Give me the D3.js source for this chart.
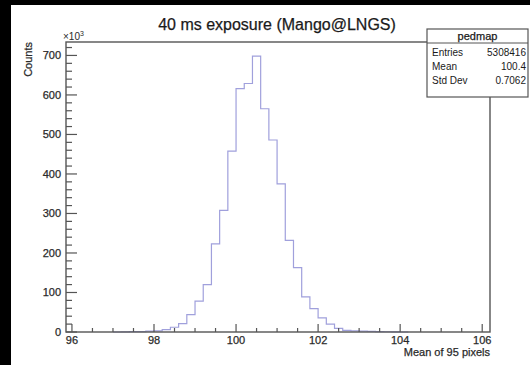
<!DOCTYPE html>
<html>
<head>
<meta charset="utf-8">
<script src="https://cdn.jsdelivr.net/npm/d3@7"></script>
<style>
  html, body { margin: 0; padding: 0; background: #000; }
  svg { display: block; }
  text { font-family: "Liberation Sans", Arial, Helvetica, sans-serif; stroke-width: 0.25px; }
</style>
</head>
<body>
<svg id="chart" width="530" height="365"></svg>
<script>
// ---- data (counts in thousands) ----
const binLow = [97.0, 97.2, 97.4, 97.6, 97.8, 98.0, 98.2, 98.4, 98.6, 98.8,
                99.0, 99.2, 99.4, 99.6, 99.8, 100.0, 100.2, 100.4, 100.6, 100.8,
                101.0, 101.2, 101.4, 101.6, 101.8, 102.0, 102.2, 102.4, 102.6, 102.8,
                103.0, 103.2, 103.4, 103.6, 103.8, 104.0];
const binWidth = 0.2;
const counts = [0, 0.5, 0.8, 1.2, 2, 3, 6, 12, 21, 44,
                78, 120, 223, 308, 458, 616, 629, 698, 565, 486,
                375, 232, 163, 89, 59, 36, 20, 9, 4, 3,
                2, 1.5, 1, 0.6, 0.4, 0];
const xTicks = [96, 98, 100, 102, 104, 106];
const yTicks = [0, 100, 200, 300, 400, 500, 600, 700];
const title = "40 ms exposure (Mango@LNGS)";
const xTitle = "Mean of 95 pixels";
const yTitle = "Counts";
const statsName = "pedmap";
const statsLabels = ["Entries", "Mean", "Std Dev"];
const statsValues = ["5308416", "100.4", "0.7062"];

(function () {
const svg = d3.select("#chart");
svg.append("rect").attr("x", 0).attr("y", 0).attr("width", 530).attr("height", 365).attr("fill", "#000");
svg.append("rect").attr("x", 11).attr("y", 5).attr("width", 519).attr("height", 360).attr("fill", "#fff");

const pL = 66, pR = 490, pT = 42, pB = 332;
const x = d3.scaleLinear().domain([95.855, 106.19]).range([pL, pR]);
const y = d3.scaleLinear().domain([0, 734]).range([pB, pT]);

const axisColor = "#555";
const textColor = "#2a2a2a";

// histogram
const pts = [];
binLow.forEach((b, i) => {
  pts.push([b, counts[i]]);
  pts.push([b + binWidth, counts[i]]);
});
pts.unshift([binLow[0], 0]);
pts.push([binLow[binLow.length - 1] + binWidth, 0]);
const line = d3.line().x(d => x(d[0])).y(d => y(d[1]));
svg.append("path").attr("d", line(pts))
  .attr("fill", "none").attr("stroke", "#a0a0dc").attr("stroke-width", 1.2);

// frame
svg.append("rect").attr("x", pL).attr("y", pT).attr("width", pR - pL).attr("height", pB - pT)
  .attr("fill", "none").attr("stroke", axisColor).attr("stroke-width", 1.4);

// x axis ticks
const xMinor = d3.range(96, 106.01, 0.5);
svg.append("g").selectAll("line").data(xMinor).join("line")
  .attr("x1", d => x(d)).attr("x2", d => x(d))
  .attr("y1", pB).attr("y2", d => pB - (xTicks.includes(d) ? 8 : 4))
  .attr("stroke", axisColor).attr("stroke-width", 1.2);
svg.append("g").selectAll("text").data(xTicks).join("text")
  .attr("x", d => x(d)).attr("y", 344)
  .attr("text-anchor", "middle").attr("font-size", 11).attr("fill", textColor).attr("stroke", textColor)
  .text(d => d);

// y axis ticks
const yMinor = d3.range(0, 721, 20);
svg.append("g").selectAll("line").data(yMinor).join("line")
  .attr("x1", pL).attr("x2", d => pL + (d % 100 === 0 ? 11 : 6))
  .attr("y1", d => y(d)).attr("y2", d => y(d))
  .attr("stroke", axisColor).attr("stroke-width", 1.2);
svg.append("g").selectAll("text").data(yTicks).join("text")
  .attr("x", 61).attr("y", d => y(d) + 4)
  .attr("text-anchor", "end").attr("font-size", 11).attr("fill", textColor).attr("stroke", textColor)
  .text(d => d);

// exponent label
const ex = svg.append("text").attr("x", 63).attr("y", 40).attr("font-size", 10).attr("fill", textColor);
ex.append("tspan").text("×10");
ex.append("tspan").attr("dy", -4).attr("font-size", 7).text("3");

// titles
svg.append("text").attr("x", 277).attr("y", 30).attr("text-anchor", "middle")
  .attr("font-size", 16).attr("fill", "#1a1a1a").attr("stroke", "#1a1a1a").text(title);
svg.append("text").attr("x", pR).attr("y", 356).attr("text-anchor", "end")
  .attr("font-size", 11).attr("fill", textColor).attr("stroke", textColor).text(xTitle);
svg.append("text").attr("transform", `translate(32,42) rotate(-90)`)
  .attr("text-anchor", "end").attr("font-size", 11).attr("fill", textColor).attr("stroke", textColor).text(yTitle);

// stats box
const bx = 427, by = 29, bw = 101, bh = 68;
svg.append("rect").attr("x", bx).attr("y", by).attr("width", bw).attr("height", bh)
  .attr("fill", "#fff").attr("stroke", axisColor).attr("stroke-width", 1.2);
svg.append("line").attr("x1", bx).attr("x2", bx + bw).attr("y1", 43).attr("y2", 43)
  .attr("stroke", axisColor).attr("stroke-width", 1);
svg.append("text").attr("x", bx + bw / 2).attr("y", 40).attr("text-anchor", "middle")
  .attr("font-size", 11).attr("fill", "#1a1a1a").attr("stroke", "#1a1a1a").text(statsName);
const rowY = [56, 70, 84];
statsLabels.forEach((l, i) => {
  svg.append("text").attr("x", 432).attr("y", rowY[i]).attr("font-size", 10).attr("fill", "#1a1a1a").text(l);
  svg.append("text").attr("x", 526).attr("y", rowY[i]).attr("text-anchor", "end")
    .attr("font-size", 10).attr("fill", "#1a1a1a").text(statsValues[i]);
});
})();
</script>
</body>
</html>
